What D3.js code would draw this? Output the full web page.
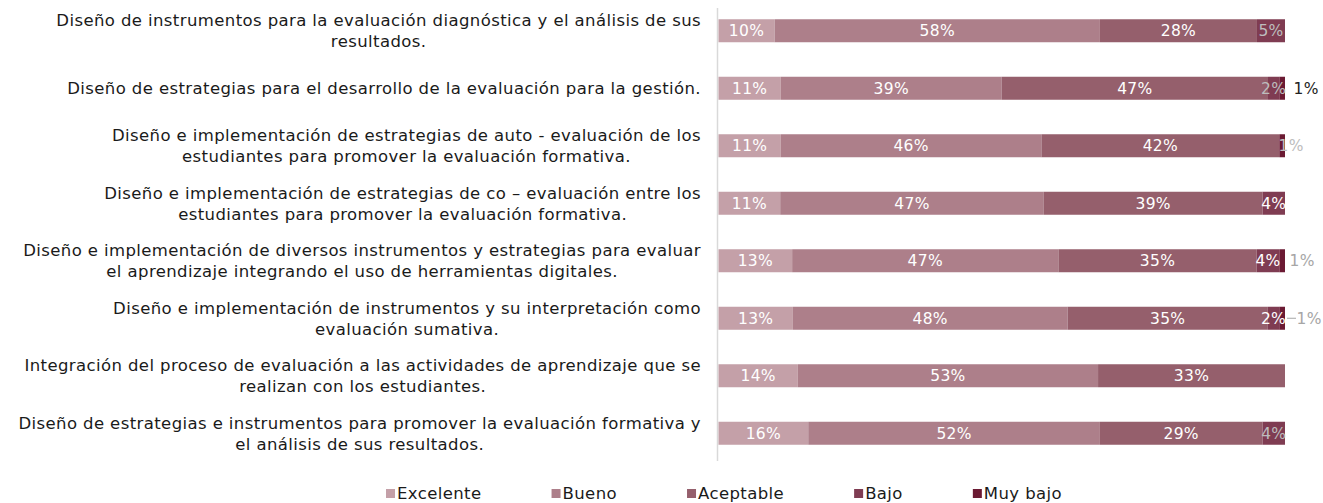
<!DOCTYPE html>
<html>
<head>
<meta charset="utf-8">
<script src="https://cdn.jsdelivr.net/npm/d3@7"></script>
<style>
body { margin: 0; background: #fff; }
text { font-family: "DejaVu Sans", "Open Sans", sans-serif; }
</style>
</head>
<body>
<svg id="chart" width="1323" height="503"></svg>
<script>
var categories = [
	["Diseño de instrumentos para la evaluación diagnóstica y el análisis de sus", "resultados."],
	["Diseño de estrategias para el desarrollo de la evaluación para la gestión."],
	["Diseño e implementación de estrategias de auto - evaluación de los", "estudiantes para promover la evaluación formativa."],
	["Diseño e implementación de estrategias de co – evaluación entre los", "estudiantes para promover la evaluación formativa."],
	["Diseño e implementación de diversos instrumentos y estrategias para evaluar", "el aprendizaje integrando el uso de herramientas digitales."],
	["Diseño e implementación de instrumentos y su interpretación como", "evaluación sumativa."],
	["Integración del proceso de evaluación a las actividades de aprendizaje que se", "realizan con los estudiantes."],
	["Diseño de estrategias e instrumentos para promover la evaluación formativa y", "el análisis de sus resultados."]
];

var seriesNames = ["Excelente", "Bueno", "Aceptable", "Bajo", "Muy bajo"];

var excelente = [10, 11, 11, 11, 13, 13, 14, 16];
var bueno     = [58, 39, 46, 47, 47, 48, 53, 52];
var aceptable = [28, 47, 42, 39, 35, 35, 33, 29];
var bajo      = [5, 2, 0, 4, 4, 2, 0, 4];
var muyBajo   = [0, 1, 1, 0, 1, 1, 0, 0];

var colors = ["#c4a0a8", "#ad7f8a", "#955f6c", "#7f3c52", "#6b1a33"];

var svg = d3.select("#chart");

var x = d3.scaleLinear().domain([0, 1]).range([718.5, 1285]);
var y = d3.scaleBand()
	.domain(d3.range(categories.length))
	.range([2, 462])
	.paddingInner(0.6)
	.paddingOuter(0.3);

var rows = categories.map(function (c, i) {
	var vals = [excelente[i], bueno[i], aceptable[i], bajo[i], muyBajo[i]];
	var total = d3.sum(vals);
	var acc = 0;
	return vals.map(function (v, s) {
		var seg = { row: i, s: s, v: v, x0: acc / total, x1: (acc + v) / total };
		acc += v;
		return seg;
	});
});

// little labels that Excel pushed around on the right end
var tweak = {
	"0-3": { fill: "#bdbdbd" },
	"1-3": { fill: "#bdbdbd" },
	"1-4": { fill: "#222", dx: 24 },
	"2-4": { fill: "#bdbdbd", dx: 9 },
	"3-3": { fill: "#fff" },
	"4-3": { fill: "#fff" },
	"4-4": { fill: "#a6a6a6", dx: 20 },
	"5-3": { fill: "#fff" },
	"5-4": { fill: "#a6a6a6", dx: 27, leader: true },
	"7-3": { fill: "#bdbdbd" }
};

// axis line
svg.append("line")
	.attr("x1", 717.5).attr("x2", 717.5)
	.attr("y1", 8).attr("y2", 461)
	.attr("stroke", "#d9d9d9")
	.attr("stroke-width", 1.5);

var segs = d3.merge(rows).filter(function (d) { return d.v > 0; });

svg.append("g").selectAll("rect")
	.data(segs)
	.enter().append("rect")
	.attr("x", function (d) { return x(d.x0); })
	.attr("width", function (d) { return x(d.x1) - x(d.x0); })
	.attr("y", function (d) { return y(d.row); })
	.attr("height", y.bandwidth())
	.attr("fill", function (d) { return colors[d.s]; });

var lbl = svg.append("g").selectAll("g")
	.data(segs)
	.enter().append("g");

lbl.append("text")
	.attr("x", function (d) {
		var t = tweak[d.row + "-" + d.s] || {};
		return (x(d.x0) + x(d.x1)) / 2 + (t.dx || 0);
	})
	.attr("y", function (d) { return y(d.row) + y.bandwidth() / 2; })
	.attr("dy", "0.36em")
	.attr("text-anchor", "middle")
	.attr("font-size", 15.5)
	.attr("letter-spacing", 0.3)
	.attr("fill", function (d) {
		var t = tweak[d.row + "-" + d.s];
		return t ? t.fill : "#fff";
	})
	.text(function (d) { return d.v + "%"; });

lbl.filter(function (d) { var t = tweak[d.row + "-" + d.s]; return t && t.leader; })
	.append("line")
	.attr("x1", function (d) { return x(d.x1) + 2; })
	.attr("x2", function (d) { return x(d.x1) + 11; })
	.attr("y1", function (d) { return y(d.row) + y.bandwidth() / 2; })
	.attr("y2", function (d) { return y(d.row) + y.bandwidth() / 2; })
	.attr("stroke", "#a6a6a6")
	.attr("stroke-width", 1);

// category labels: block right-aligned, lines centered inside block
var catG = svg.append("g").selectAll("text")
	.data(categories)
	.enter().append("text")
	.attr("font-size", 16.5)
	.attr("letter-spacing", 0.4)
	.attr("fill", "#1a1a1a")
	.attr("text-anchor", "middle");

catG.each(function (lines, i) {
	var el = d3.select(this);
	var cy = y(i) + y.bandwidth() / 2;
	var top = cy - (lines.length - 1) * 10.5;
	var spans = el.selectAll("tspan").data(lines).enter().append("tspan")
		.attr("y", function (l, k) { return top + k * 21; })
		.attr("dy", "0.36em")
		.text(function (l) { return l; });
	var w = 0;
	spans.each(function () { w = Math.max(w, this.getComputedTextLength()); });
	spans.attr("x", 701 - w / 2);
});

// legend
var leg = svg.append("g");
var lx = 386;
seriesNames.forEach(function (name, i) {
	leg.append("rect")
		.attr("x", lx).attr("y", 489)
		.attr("width", 9).attr("height", 9)
		.attr("fill", colors[i]);
	var t = leg.append("text")
		.attr("x", lx + 11).attr("y", 493.5)
		.attr("dy", "0.36em")
		.attr("font-size", 16.5)
		.attr("letter-spacing", 0.4)
		.attr("fill", "#1a1a1a")
		.text(name);
	lx += 11 + t.node().getComputedTextLength() + 70;
});
</script>
</body>
</html>
